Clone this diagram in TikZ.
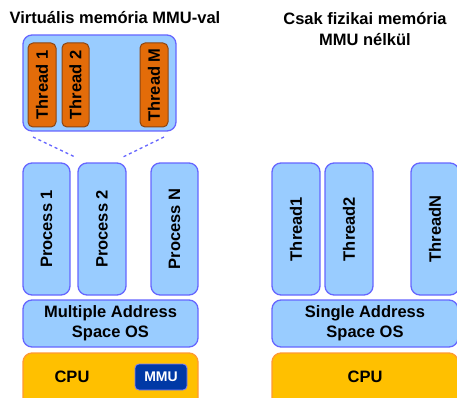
\documentclass[tikz,border=0pt]{standalone}
\usepackage{fontspec}
\setmainfont{Liberation Sans}
\begin{document}
\begin{tikzpicture}[x=1pt,y=-1pt]
\definecolor{bfill}{HTML}{99CCFF}
\definecolor{bline}{HTML}{6666FF}
\definecolor{ofill}{HTML}{E36C09}
\definecolor{oline}{HTML}{8B4513}
\definecolor{cfill}{HTML}{FFC000}
\definecolor{cline}{HTML}{FF9933}
\definecolor{mfill}{HTML}{0039A6}
\definecolor{mline}{HTML}{8080FF}
\tikzset{
  lbl/.style={font=\fontsize{16.5}{20}\selectfont\bfseries, text=black},
  bluebox/.style={draw=bline, line width=1.3pt, fill=bfill, rounded corners=9pt},
  threadbox/.style={draw=oline, line width=1pt, fill=ofill, rounded corners=5pt},
  cpubox/.style={draw=cline, line width=1.3pt, fill=cfill, rounded corners=9pt},
  mmubox/.style={draw=mline, line width=0.8pt, fill=mfill, rounded corners=4pt},
  dashline/.style={draw=bline, line width=1.3pt, dash pattern=on 3pt off 3pt}}
\useasboundingbox (0,0) rectangle (457,398);
% titles
\node[lbl] (t1) at (115,18) {Virtuális memória MMU-val};
\node[lbl, align=center, font=\fontsize{16.5}{21}\selectfont\bfseries] (t2) at (365,29) {Csak fizikai memória\\MMU nélkül};
% left: thread container
\node[bluebox, minimum width=153pt, minimum height=96pt] (cont) at (99.5,83) {};
\node[threadbox, minimum width=28pt, minimum height=84pt] (th1) at (42,85) {};
\node[lbl, rotate=90] at (th1.center) {Thread 1};
\node[threadbox, minimum width=27pt, minimum height=84pt] (th2) at (75.5,85) {};
\node[lbl, rotate=90] at (th2.center) {Thread 2};
\node[threadbox, minimum width=28pt, minimum height=84pt] (thm) at (154,85) {};
\node[lbl, rotate=90] at (thm.center) {Thread M};
% processes
\node[bluebox, minimum width=47pt, minimum height=132pt] (p1) at (46.5,229) {};
\node[lbl, rotate=90] at (p1.center) {Process 1};
\node[bluebox, minimum width=48pt, minimum height=132pt] (p2) at (102,229) {};
\node[lbl, rotate=90] at (p2.center) {Process 2};
\node[bluebox, minimum width=47pt, minimum height=132pt] (pn) at (174.5,229) {};
\node[lbl, rotate=90] at (pn.center) {Process N};
% dashed connectors
\coordinate (d1a) at (33,137);
\coordinate (d1b) at (75,157);
\coordinate (d2a) at (164,137);
\coordinate (d2b) at (123,157);
\draw[dashline] (d1a) -- (d1b);
\draw[dashline] (d2a) -- (d2b);
% OS
\node[bluebox, minimum width=175pt, minimum height=47pt, lbl, align=center, font=\fontsize{16.5}{20}\selectfont\bfseries] (os1) at (110.5,323.5) {Multiple Address\\Space OS};
% CPU
\node[cpubox, minimum width=175pt, minimum height=60pt] (cpu1) at (110.5,383) {};
\node[lbl] (cpu1t) at (72,377) {CPU};
\node[mmubox, minimum width=52pt, minimum height=26pt, text=white, font=\fontsize{14}{16}\selectfont\bfseries] (mmu) at (161,377) {MMU};
% right side
\node[bluebox, minimum width=48pt, minimum height=132pt] (r1) at (296,229) {};
\node[lbl, rotate=90] at (r1.center) {Thread1};
\node[bluebox, minimum width=48pt, minimum height=132pt] (r2) at (349,229) {};
\node[lbl, rotate=90] at (r2.center) {Thread2};
\node[bluebox, minimum width=48pt, minimum height=132pt] (rn) at (435,229) {};
\node[lbl, rotate=90] at (rn.center) {ThreadN};
\node[bluebox, minimum width=186pt, minimum height=47pt, lbl, align=center, font=\fontsize{16.5}{20}\selectfont\bfseries] (os2) at (365,323.5) {Single Address\\Space OS};
\node[cpubox, minimum width=186pt, minimum height=60pt] (cpu2) at (365,383) {};
\node[lbl] (cpu2t) at (365,377) {CPU};
\end{tikzpicture}
\end{document}
